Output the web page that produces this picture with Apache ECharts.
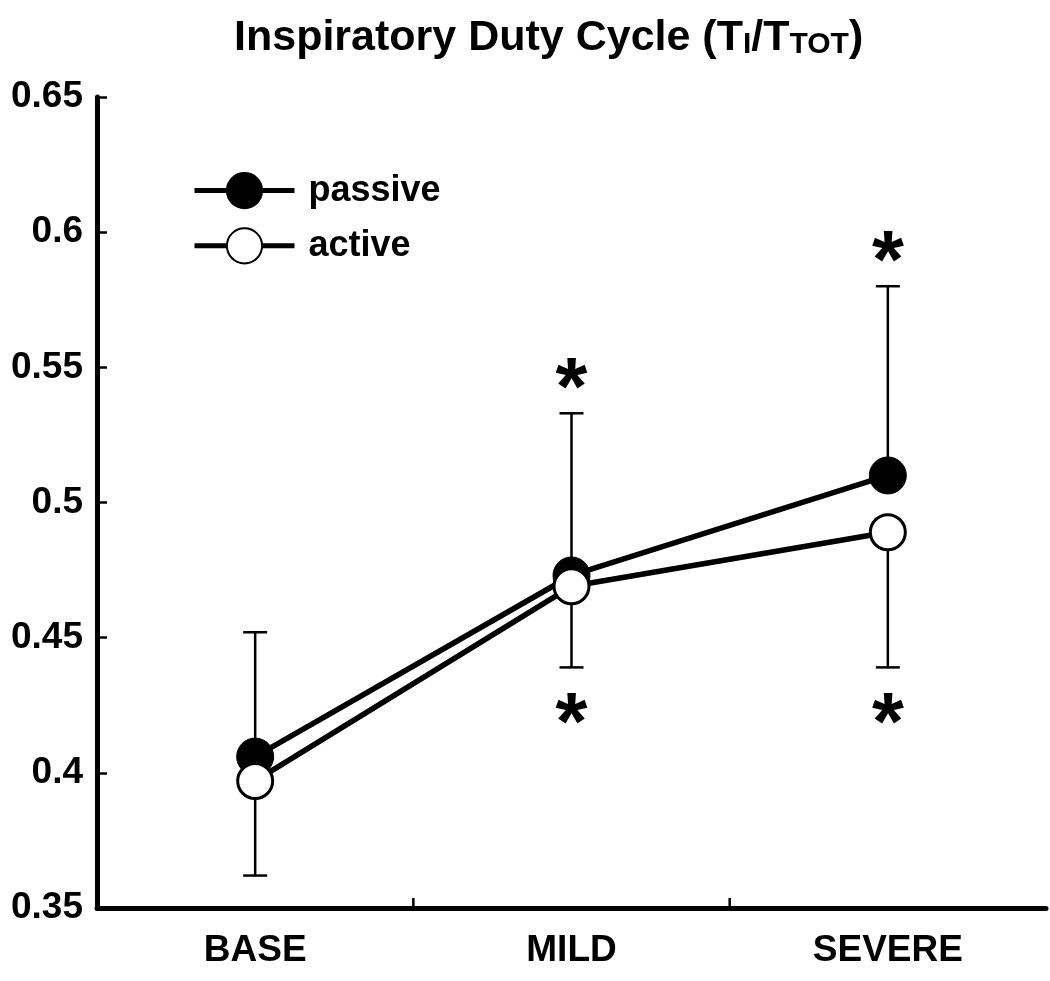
<!DOCTYPE html>
<html><head><meta charset="utf-8">
<script src="https://cdn.jsdelivr.net/npm/echarts@6/dist/echarts.min.js"></script>
<style>html,body{margin:0;padding:0;background:#fff}#c{width:1050px;height:981px}</style>
</head><body><div id="c"></div>
<script>
const categories = ['BASE', 'MILD', 'SEVERE'];
const passive = [0.406, 0.473, 0.510];
const active = [0.397, 0.469, 0.489];
const passiveUpper = [0.452, 0.533, 0.580];
const activeLower = [0.362, 0.439, 0.439];
const sigAbove = [false, true, true];
const sigBelow = [false, true, true];
const yMin = 0.35, yMax = 0.65, yStep = 0.05;

const FONT = '"Liberation Sans", Arial, Helvetica, sans-serif';
const chart = echarts.init(document.getElementById('c'));

const upperBars = passive.map((v, i) => [i, v, passiveUpper[i]]);
const lowerBars = active.map((v, i) => [i, v, activeLower[i]]);

function errRender(params, api) {
  const i = api.value(0);
  const p0 = api.coord([i, api.value(1)]);
  const p1 = api.coord([i, api.value(2)]);
  const hw = 12;
  return {
    type: 'group',
    children: [
      { type: 'line', shape: { x1: p0[0], y1: p0[1], x2: p1[0], y2: p1[1] }, style: { stroke: '#000', lineWidth: 2.5 } },
      { type: 'line', shape: { x1: p1[0] - hw, y1: p1[1], x2: p1[0] + hw, y2: p1[1] }, style: { stroke: '#000', lineWidth: 2.5 } }
    ]
  };
}

// category boundary ticks (between categories only)
const tickData = categories.slice(0, -1).map((c, i) => [i, yMin]);
function tickRender(params, api) {
  const p = api.coord([api.value(0), api.value(1)]);
  const bw = api.size([1, 0])[0];
  const x = p[0] + bw / 2;
  return { type: 'line', shape: { x1: x, y1: p[1], x2: x, y2: p[1] - 10 }, style: { stroke: '#000', lineWidth: 2.5 } };
}

const starData = [];
categories.forEach((c, i) => {
  if (sigAbove[i]) starData.push([i, passiveUpper[i], -1]);
  if (sigBelow[i]) starData.push([i, activeLower[i], 1]);
});
function starRender(params, api) {
  const p = api.coord([api.value(0), api.value(1)]);
  const dir = api.value(2);
  const off = dir < 0 ? -37 : 44;
  return {
    type: 'text',
    x: p[0], y: p[1] + off + 15,
    style: { text: '*', fontSize: 82, fontWeight: 'bold', fontFamily: FONT, fill: '#000', textAlign: 'center', textVerticalAlign: 'middle' }
  };
}

chart.setOption({
  animation: false,
  backgroundColor: '#fff',
  title: {
    text: '{a|Inspiratory Duty Cycle (T}{b|I}{a|/T}{b|TOT}{a|)}',
    left: 229, top: 12,
    textStyle: {
      rich: {
        a: { fontSize: 43, fontWeight: 'bold', fontFamily: FONT, color: '#000', verticalAlign: 'bottom', lineHeight: 43 },
        b: { fontSize: 30, fontWeight: 'bold', fontFamily: FONT, color: '#000', verticalAlign: 'bottom', lineHeight: 43 }
      }
    }
  },
  legend: {
    orient: 'vertical', left: 187, top: 167,
    itemWidth: 100, itemHeight: 44, itemGap: 18,
    data: ['passive', 'active'],
    lineStyle: { width: 5, color: '#000' },
    textStyle: { fontSize: 36, fontWeight: 'bold', fontFamily: FONT, color: '#000', padding: [0, 0, 0, 9] }
  },
  grid: { left: 97, right: 4, top: 97, bottom: 73, containLabel: false },
  xAxis: {
    type: 'category', data: categories, boundaryGap: true,
    axisLine: { lineStyle: { color: '#000', width: 5 } },
    axisTick: { show: false },
    axisLabel: { color: '#000', fontSize: 37, fontWeight: 'bold', fontFamily: FONT, margin: 24 },
    splitLine: { show: false }
  },
  yAxis: {
    type: 'value', min: yMin, max: yMax, interval: yStep,
    axisLine: { show: true, lineStyle: { color: '#000', width: 5 } },
    axisTick: { show: true, inside: true, length: 10, lineStyle: { color: '#000', width: 2.5 } },
    axisLabel: { color: '#000', fontSize: 37, fontWeight: 'bold', fontFamily: FONT, margin: 14 },
    splitLine: { show: false }
  },
  series: [
    { type: 'custom', name: 'ticks', renderItem: tickRender, data: tickData, z: 1, silent: true },
    { type: 'custom', name: 'errUp', renderItem: errRender, data: upperBars, z: 1, silent: true },
    { type: 'custom', name: 'errLow', renderItem: errRender, data: lowerBars, z: 1, silent: true },
    { type: 'custom', name: 'stars', renderItem: starRender, data: starData, z: 1, silent: true },
    {
      name: 'passive', type: 'line', data: passive, z: 3,
      symbol: 'circle', symbolSize: 37,
      lineStyle: { color: '#000', width: 5.5 },
      itemStyle: { color: '#000', borderColor: '#000', borderWidth: 1 }
    },
    {
      name: 'active', type: 'line', data: active, z: 4,
      symbol: 'circle', symbolSize: 35,
      lineStyle: { color: '#000', width: 5.5 },
      itemStyle: { color: '#fff', borderColor: '#000', borderWidth: 3 }
    }
  ]
});
</script></body></html>
